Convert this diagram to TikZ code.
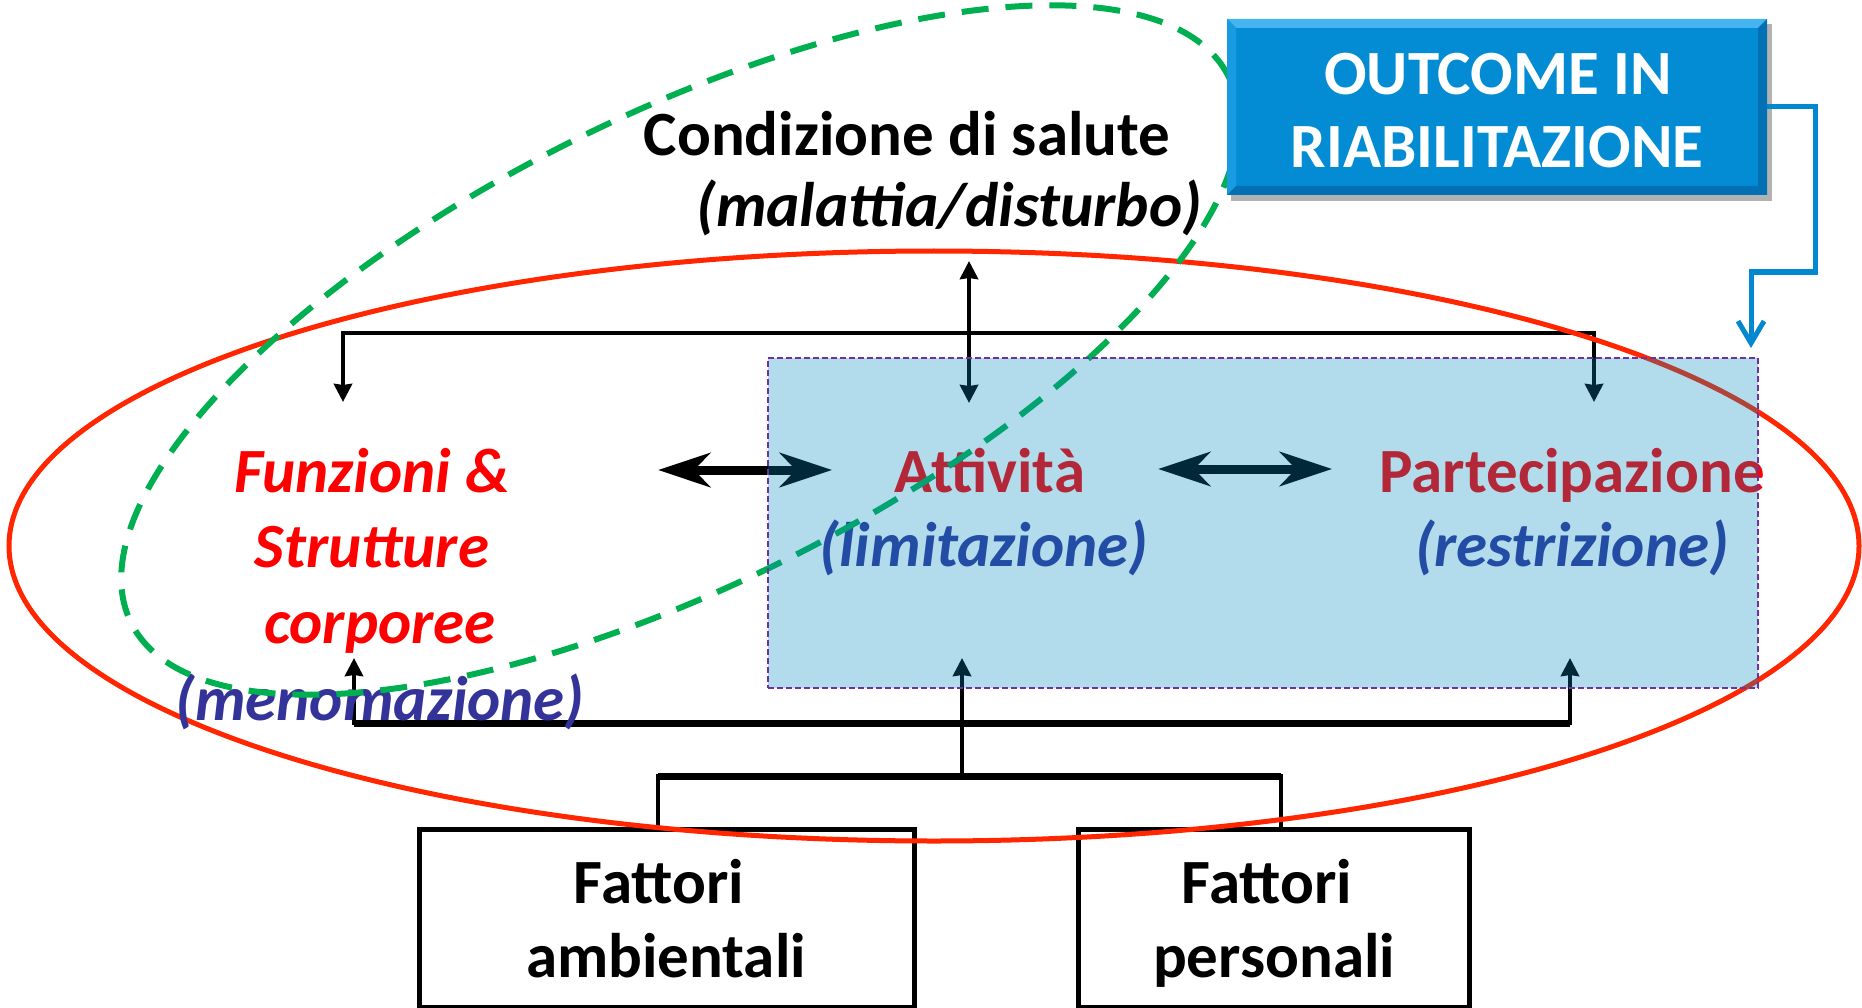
\documentclass[tikz,border=0pt]{standalone}
\usepackage{fontspec}
\setmainfont{Carlito}
\usetikzlibrary{arrows.meta}
\definecolor{myred}{RGB}{255,38,0}
\definecolor{txtred}{RGB}{255,0,0}
\definecolor{mygreen}{RGB}{0,176,80}
\definecolor{mynavy}{RGB}{51,51,153}
\definecolor{overblue}{RGB}{0,135,190}
\definecolor{outblue}{RGB}{3,140,212}
\definecolor{outlight}{RGB}{70,180,240}
\definecolor{outmid}{RGB}{25,155,225}
\definecolor{outdark}{RGB}{2,112,178}
\definecolor{conblue}{RGB}{2,136,209}
\definecolor{mypurple}{RGB}{112,48,160}
\newcommand{\myfont}{\fontsize{63}{75}\selectfont\bfseries}
\begin{document}
\begin{tikzpicture}[x=1pt,y=-1pt,
  lbl/.style={anchor=base,inner sep=0pt,font=\myfont},
  ilbl/.style={anchor=base,inner sep=0pt,font=\myfont\itshape},
  link/.style={line width=4.5pt,draw=black},
  sa/.style={-{Stealth[length=18pt,width=18pt,inset=1pt]}},
  sab/.style={{Stealth[length=18pt,width=18pt,inset=1pt]}-{Stealth[length=18pt,width=18pt,inset=1pt]}},
  ba/.style={{Stealth[length=52pt,width=34pt,inset=16pt]}-{Stealth[length=52pt,width=34pt,inset=16pt]}},
  fbox/.style={draw=black,line width=5pt,inner sep=0pt,fill=white}
]
\useasboundingbox (0,0) rectangle (1862,1008);

% factor boxes
\node[fbox,minimum width=495pt,minimum height=178pt] (fa) at (666.5,918) {};
\node[fbox,minimum width=391pt,minimum height=178pt] (fp) at (1273.5,918) {};

% connector coordinates
\coordinate (tbL) at (343,402);
\coordinate (tbLc) at (343,333);
\coordinate (tbRc) at (1594,333);
\coordinate (tbR) at (1594,402);
\coordinate (cd1) at (969,261);
\coordinate (cd2) at (969,403);
\coordinate (hl1) at (658,470);
\coordinate (hl2) at (832,470);
\coordinate (hr1) at (1158,469);
\coordinate (hr2) at (1332,469);
\coordinate (bbL) at (354,658);
\coordinate (bbLc) at (354,723);
\coordinate (bbRc) at (1570,723);
\coordinate (bbR) at (1570,658);
\coordinate (cv1) at (962,776);
\coordinate (cv2) at (962,658);
\coordinate (bxL) at (658,828);
\coordinate (bxLc) at (658,776);
\coordinate (bxRc) at (1281,776);
\coordinate (bxR) at (1281,828);

% black connectors
\draw[link,sab] (tbL) -- (tbLc) -- (tbRc) -- (tbR);
\draw[link,sab] (cd1) -- (cd2);
\draw[line width=9pt,ba] (hl1) -- (hl2);
\draw[line width=9pt,ba] (hr1) -- (hr2);
\draw[link,sab] (bbL) -- (bbLc) -- (bbRc) -- (bbR);
\draw[line width=7pt] (bbLc) -- (bbRc);
\draw[link,sa] (cv1) -- (cv2);
\draw[link] (bxL) -- (bxLc) -- (bxRc) -- (bxR);
\draw[line width=7pt] (bxLc) -- (bxRc);

% red ellipse
\draw[myred,line width=5pt] (934,546) ellipse [x radius=925pt, y radius=295pt];

% texts
\node[lbl] (cond1) at (907,156) {Condizione di salute};
\node[ilbl] (cond2) at (949,227) {(malattia/disturbo)};
\node[ilbl,text=txtred] (fs1) at (372,492) {Funzioni \&};
\node[ilbl,text=txtred] (fs2) at (372,567) {Strutture};
\node[ilbl,text=txtred] (fs3) at (380,643) {corporee};
\node[ilbl,text=mynavy] (fs4) at (380,720) {(menomazione)};
\node[lbl,text=txtred] (at1) at (990,492) {Attività};
\node[ilbl,text=mynavy] (at2) at (984,566) {(limitazione)};
\node[lbl,text=txtred] (pa1) at (1572,492) {Partecipazione};
\node[ilbl,text=mynavy] (pa2) at (1572,566) {(restrizione)};
\node[lbl] (fa1) at (659,903) {Fattori};
\node[lbl] (fa2) at (666,977) {ambientali};
\node[lbl] (fp1) at (1267,903) {Fattori};
\node[lbl] (fp2) at (1274,977) {personali};

% green dashed ellipse
\draw[mygreen,line width=6pt,dash pattern=on 27pt off 17pt,rotate around={26.45:(680,350)}]
  (680,350) ellipse [x radius=613pt, y radius=235pt];

% translucent activity/participation area
\node[draw=mypurple,line width=1.8pt,dash pattern=on 6pt off 3pt,fill=overblue,fill opacity=0.3,
      minimum width=990pt,minimum height=330pt,inner sep=0pt] (body) at (1263,523) {};

% outcome box
\fill[black,opacity=0.3] (1231,24) rectangle (1772,201);
\node[fill=outblue,minimum width=540pt,minimum height=176pt,inner sep=0pt] (out) at (1497,107) {};
\fill[outlight] (1227,19) -- (1767,19) -- (1758,28) -- (1236,28) -- cycle;
\fill[outmid] (1227,19) -- (1236,28) -- (1236,186) -- (1227,195) -- cycle;
\fill[outdark] (1227,195) -- (1767,195) -- (1758,186) -- (1236,186) -- cycle;
\fill[outdark] (1767,19) -- (1767,195) -- (1758,186) -- (1758,28) -- cycle;
\node[lbl,text=white] (o1) at (1498,95) {OUTCOME IN};
\node[lbl,text=white] (o2) at (1497,168) {RIABILITAZIONE};

\coordinate (oc2) at (1815,272);
\coordinate (oc3) at (1751,272);
\coordinate (oc4) at (1751,348);
\draw[conblue,line width=5pt,-{Straight Barb[length=22pt,width=26pt]}]
  (out.east) -| (oc2) -- (oc3) -- (oc4);
\end{tikzpicture}
\end{document}
